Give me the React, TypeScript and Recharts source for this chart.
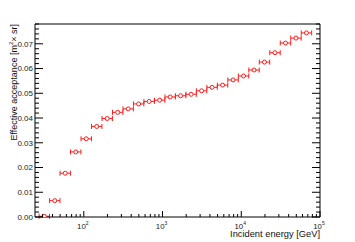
import React from 'react';
import { ScatterChart, Scatter, XAxis, YAxis, ErrorBar } from 'recharts';

// Incident energy bin centres [GeV]
const energies = [
  31.5, 42.8, 58.1, 79.0, 107.4, 145.9, 198.3, 269.4, 366.1, 497.5, 676, 919, 1249,
  1697, 2306, 3134, 4259, 5787, 7864, 10686, 14521, 19732, 26813, 36436, 49512, 67280,
];
// Effective acceptance [m^2 sr]
const acceptance = [
  0.0003, 0.0066, 0.0177, 0.0263, 0.0316, 0.0366, 0.0398, 0.0423, 0.0437, 0.0457, 0.0467,
  0.0472, 0.0485, 0.049, 0.0496, 0.051, 0.0524, 0.0533, 0.0554, 0.057, 0.0594, 0.0626,
  0.0664, 0.0703, 0.0723, 0.0744,
];
// half bin width in decades
const binHalfWidthDex = 0.066;

const xMajorTicks = [100, 1000, 10000, 100000];
const xTickExponents = ['2', '3', '4', '5'];
const xDomain = [24, 100000];
const yMajorTicks = [0, 0.01, 0.02, 0.03, 0.04, 0.05, 0.06, 0.07];
const yTickLabels = ['0.00', '0.01', '0.02', '0.03', '0.04', '0.05', '0.06', '0.07'];
const yDomain = [0, 0.078];

const xTicks: number[] = [];
[10, 100, 1000, 10000].forEach((d) => {
  for (let m = 1; m <= 9; m++) {
    const v = d * m;
    if (v >= xDomain[0]) xTicks.push(v);
  }
});
xTicks.push(100000);

const yTicks: number[] = [];
for (let i = 0; i <= 39; i++) yTicks.push(Number((i * 0.002).toFixed(3)));

const f = Math.pow(10, binHalfWidthDex);
const data = energies.map((e, i) => ({
  e,
  a: acceptance[i],
  ex: [e - e / f, e * f - e],
}));

const FONT = '"Liberation Sans", Arial, Helvetica, sans-serif';
const AX = '#000';
const RED = '#ff1a1a';

const yMajorIdx = (v: number) => yMajorTicks.findIndex((m) => Math.abs(m - v) < 1e-9);

const BottomTick = (props: any) => {
  const { x, y, payload } = props;
  const idx = xMajorTicks.indexOf(payload.value);
  const major = idx >= 0;
  return (
    <g>
      <line x1={x} x2={x} y1={y} y2={y - (major ? 6 : 3)} stroke={AX} strokeWidth={1} />
      {major && (
        <text x={x - 1} y={y + 11.5} textAnchor="middle" fontSize={7.8} fontFamily={FONT} fill="#222">
          10
          <tspan dy={-3.5} fontSize={5}>
            {xTickExponents[idx]}
          </tspan>
        </text>
      )}
    </g>
  );
};

const TopTick = (props: any) => {
  const { x, y, payload } = props;
  const major = xMajorTicks.indexOf(payload.value) >= 0;
  return <line x1={x} x2={x} y1={y} y2={y + (major ? 6 : 3)} stroke={AX} strokeWidth={1} />;
};

const LeftTick = (props: any) => {
  const { x, y, payload } = props;
  const idx = yMajorIdx(payload.value);
  const major = idx >= 0;
  return (
    <g>
      <line x1={x} x2={x + (major ? 8 : 4)} y1={y} y2={y} stroke={AX} strokeWidth={1} />
      {major && (
        <text x={x - 2} y={y + 2.8} textAnchor="end" fontSize={8} fontFamily={FONT} fill="#222">
          {yTickLabels[idx]}
        </text>
      )}
    </g>
  );
};

const RightTick = (props: any) => {
  const { x, y, payload } = props;
  const major = yMajorIdx(payload.value) >= 0;
  return <line x1={x} x2={x - (major ? 8 : 4)} y1={y} y2={y} stroke={AX} strokeWidth={1} />;
};

const YLabel = () => (
  <text
    x={16.5}
    y={24}
    transform="rotate(-90 16.5 24)"
    textAnchor="end"
    fontSize={9}
    fontFamily={FONT}
    fill="#111"
  >
    Effective acceptance [m
    <tspan dy={-3.5} fontSize={6}>2</tspan>
    <tspan dy={3.5}>× sr]</tspan>
  </text>
);

const XLabel = () => (
  <text x={320} y={237} textAnchor="end" fontSize={9.3} fontFamily={FONT} fill="#111">
    Incident energy [GeV]
  </text>
);

const Marker = (p: any) => (
  <circle cx={p.cx} cy={p.cy} r={2} fill="#fff" stroke={RED} strokeWidth={1} />
);

export default function App() {
  return (
    <div style={{ position: 'absolute', left: 0, top: 0, width: 355, height: 242, background: '#fff' }}>
      <ScatterChart width={355} height={242} margin={{ top: 0, right: 0, bottom: 0, left: 0 }}>
        <XAxis
          xAxisId="b"
          dataKey="e"
          type="number"
          scale="log"
          domain={xDomain}
          allowDataOverflow
          ticks={xTicks}
          interval={0}
          tickSize={0}
          tickMargin={0}
          tickLine={false}
          tick={BottomTick}
          axisLine={{ stroke: AX, strokeWidth: 1 }}
          height={25}
          label={{ content: XLabel }}
        />
        <XAxis
          xAxisId="t"
          orientation="top"
          type="number"
          scale="log"
          domain={xDomain}
          allowDataOverflow
          ticks={xTicks}
          interval={0}
          tickSize={0}
          tickMargin={0}
          tickLine={false}
          tick={TopTick}
          axisLine={{ stroke: AX, strokeWidth: 1 }}
          height={24}
        />
        <YAxis
          yAxisId="l"
          dataKey="a"
          type="number"
          domain={yDomain}
          allowDataOverflow
          ticks={yTicks}
          interval={0}
          tickSize={0}
          tickMargin={0}
          tickLine={false}
          tick={LeftTick}
          axisLine={{ stroke: AX, strokeWidth: 1 }}
          width={35}
          label={{ content: YLabel }}
        />
        <YAxis
          yAxisId="r"
          orientation="right"
          type="number"
          domain={yDomain}
          allowDataOverflow
          ticks={yTicks}
          interval={0}
          tickSize={0}
          tickMargin={0}
          tickLine={false}
          tick={RightTick}
          axisLine={{ stroke: AX, strokeWidth: 1 }}
          width={35}
        />
        <Scatter
          data={data}
          xAxisId="b"
          yAxisId="l"
          dataKey="a"
          shape={Marker}
          isAnimationActive={false}
        >
          <ErrorBar dataKey="ex" direction="x" width={2.5} stroke={RED} strokeWidth={1} isAnimationActive={false} />
        </Scatter>
      </ScatterChart>
    </div>
  );
}
